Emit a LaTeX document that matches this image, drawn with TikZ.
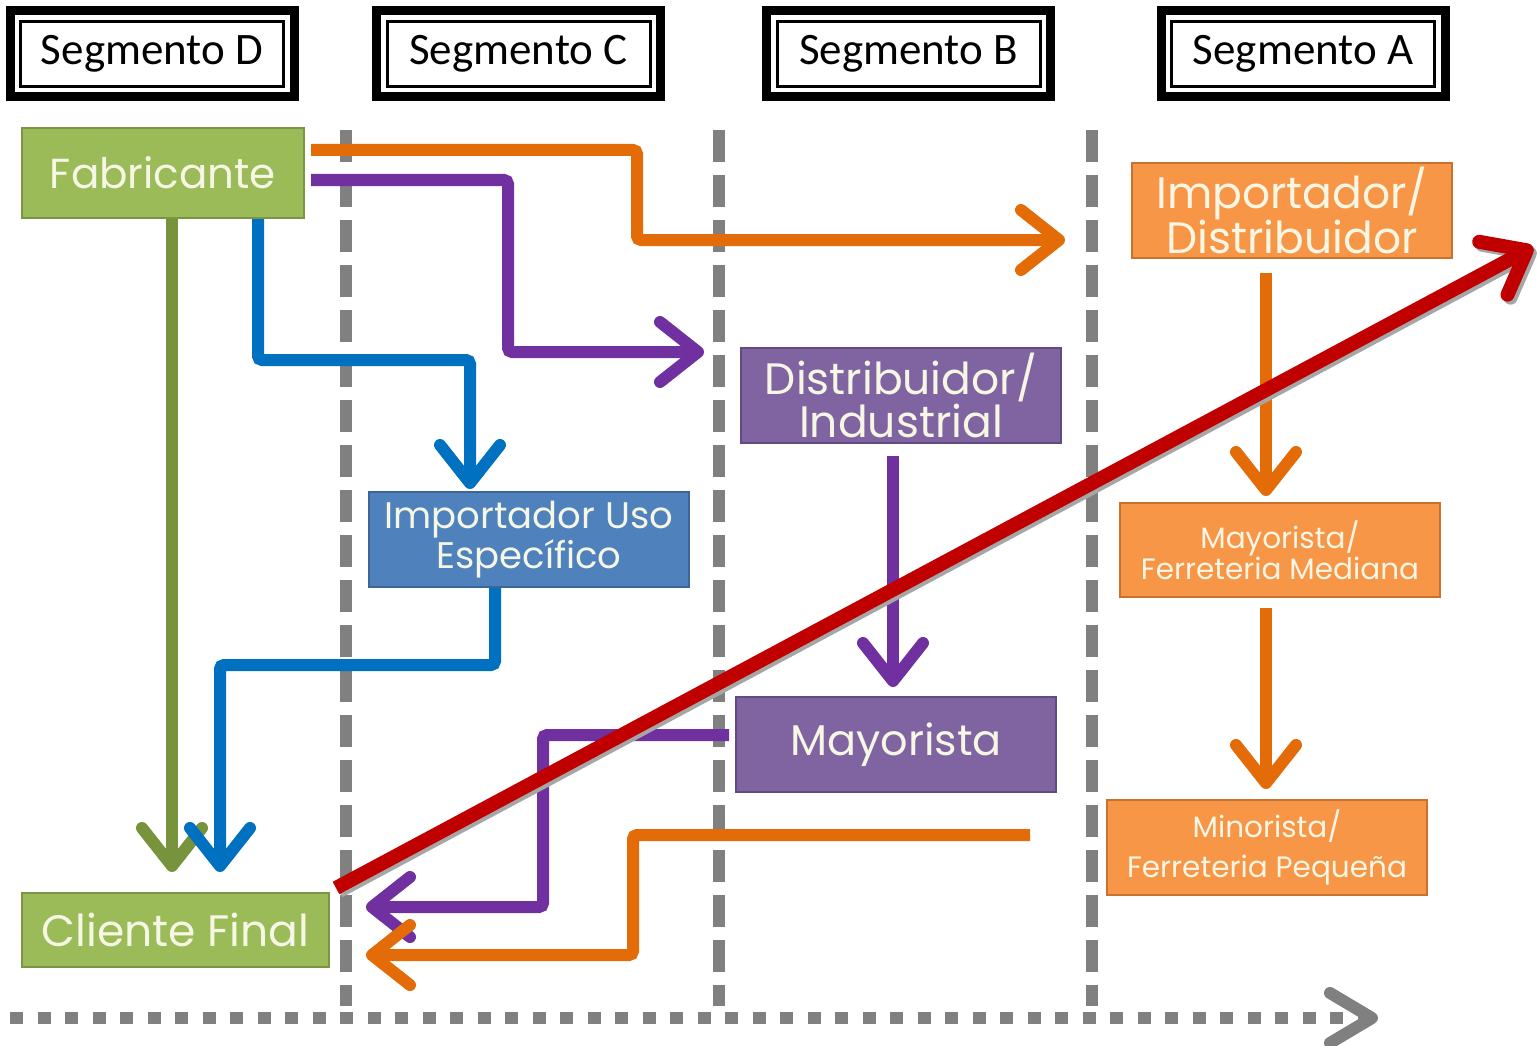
\documentclass[tikz,border=0pt]{standalone}
\usepackage{fontspec}
\setmainfont{Poppins}
\newfontfamily\hdrfont{Carlito}
\usetikzlibrary{arrows.meta}
\definecolor{gfill}{HTML}{9BBB59}
\definecolor{gdraw}{HTML}{7A9645}
\definecolor{garr}{HTML}{77933C}
\definecolor{bfill}{HTML}{4F81BD}
\definecolor{bdraw}{HTML}{3C6696}
\definecolor{barr}{HTML}{0070C0}
\definecolor{pfill}{HTML}{8064A2}
\definecolor{pdraw}{HTML}{624B80}
\definecolor{parr}{HTML}{7030A0}
\definecolor{ofill}{HTML}{F79646}
\definecolor{odraw}{HTML}{C7722F}
\definecolor{oarr}{HTML}{E36C09}
\definecolor{redarr}{HTML}{C00000}
\definecolor{gry}{HTML}{808080}
\definecolor{boxtext}{RGB}{246,246,228}
\tikzset{
  hdr/.style={draw=black, line width=3pt, minimum width=263pt, minimum height=65pt, inner sep=0pt,
    font=\hdrfont\fontsize{45}{50}\selectfont},
  hdrout/.style={draw=black, line width=9pt},
  box/.style={line width=2pt, minimum width=320pt, minimum height=95pt, inner sep=0pt, align=center, text=boxtext},
  conn/.style={line width=12pt, ->, rounded corners=4pt},
  vdash/.style={draw=gry, line width=12pt, dash pattern=on 32pt off 13pt},
}
\begin{document}
\begin{tikzpicture}[x=1pt,y=-1pt, >={Straight Barb[length=38pt,width=60pt,round]}]
\useasboundingbox (0,0) rectangle (1537,1046);

% headers
\node[hdr] (hD) at (152,54) {Segmento D};
\node[hdr] (hC) at (518.5,54) {Segmento C};
\node[hdr] (hB) at (908.5,54) {Segmento B};
\node[hdr] (hA) at (1303,54) {Segmento A};
\foreach \h in {hD,hC,hB,hA}{
  \draw[hdrout] ([shift={(-9pt,9pt)}]\h.north west) rectangle ([shift={(9pt,-9pt)}]\h.south east);
}

% vertical dashed separators
\draw[vdash] (346,130) -- (346,1006);
\draw[vdash] (719,130) -- (719,1006);
\draw[vdash] (1092,130) -- (1092,1006);

% bottom axis
\coordinate (ax0) at (10,1018);
\coordinate (ax1) at (1378,1018);
\draw[draw=gry, line width=12pt, dash pattern=on 13pt off 14.5pt, -{Straight Barb[length=42pt,width=50pt,round]}] (ax0) -- (ax1);

% boxes
\node[box, fill=gfill, draw=gdraw, minimum width=282pt, minimum height=90pt, font=\fontsize{42}{46}\selectfont] (fab) at (163,173) {Fabricante};
\node[box, fill=gfill, draw=gdraw, minimum width=307pt, minimum height=74pt, font=\fontsize{44}{48}\selectfont] (cli) at (175.5,930) {Cliente Final};
\node[box, fill=bfill, draw=bdraw, font=\fontsize{37}{37}\selectfont] (imp) at (529,539.5) {Importador Uso\\Específico};
\node[box, fill=pfill, draw=pdraw, font=\fontsize{44}{43}\selectfont] (dis) at (901,395.5) {Distribuidor/\\Industrial};
\node[box, fill=pfill, draw=pdraw, font=\fontsize{43}{46}\selectfont] (may) at (896,744.5) {Mayorista};
\node[box, fill=ofill, draw=odraw, font=\fontsize{44}{43}\selectfont] (impd) at (1292,210.5) {Importador/\\Distribuidor};
\node[box, fill=ofill, draw=odraw, minimum height=94pt, font=\fontsize{29.5}{29}\selectfont] (mfm) at (1280,550) {Mayorista/\\Ferreteria Mediana};
\node[box, fill=ofill, draw=odraw, font=\fontsize{29.5}{40}\selectfont] (min) at (1267,847.5) {Minorista/\\Ferreteria Pequeña};

% connectors
\draw[conn, garr, shorten >=20pt] (fab.south -| 172,0) -- (cli.north -| 172,0);
\draw[conn, barr, shorten >=2pt] (fab.south -| 258,0) |- (470,360) -- (imp.north -| 470,0);
\draw[conn, barr, shorten >=20pt] (imp.south -| 495,0) |- (220,665) -- (cli.north -| 220,0);
\coordinate (oaend) at (1065,240);
\draw[conn, oarr, shorten <=6pt] (fab.east |- 0,150) -| (637,240) -- (oaend);
\draw[conn, parr, shorten <=6pt, shorten >=36pt] (fab.east |- 0,180) -| (508,352) -- (dis.west |- 0,352);
\draw[conn, parr, shorten <=12pt, shorten >=9pt] (dis.south -| 893,0) -- (may.north -| 893,0);
\draw[conn, parr, shorten <=6pt, shorten >=36pt] (may.west |- 0,735) -| (543,907) -- (cli.east |- 0,907);
\coordinate (obstart) at (1030,835);
\draw[conn, oarr, shorten >=36pt] (obstart) -| (633,955) -- (cli.east |- 0,955);
\draw[conn, oarr, shorten <=14pt, shorten >=6pt] (impd.south -| 1266,0) -- (mfm.north -| 1266,0);
\draw[conn, oarr, shorten <=10pt, shorten >=10pt] (mfm.south -| 1266,0) -- (min.north -| 1266,0);

% red trend arrow
\coordinate (redend) at (1533,247);
\draw[line width=14pt, gray!70, ->, transform canvas={shift={(3pt,-3pt)}}] ([shift={(6pt,4pt)}]cli.north east) -- (redend);
\draw[line width=14pt, redarr, ->] ([shift={(6pt,4pt)}]cli.north east) -- (redend);
\end{tikzpicture}
\end{document}
